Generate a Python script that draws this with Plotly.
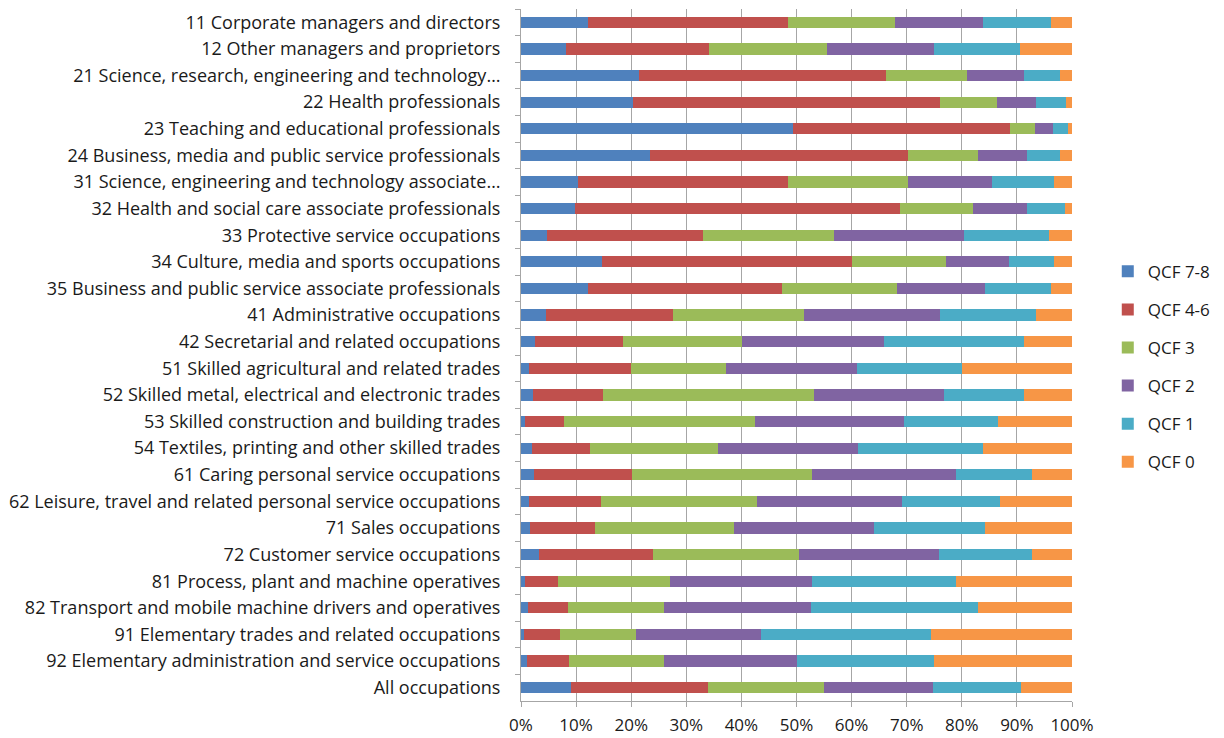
import plotly.graph_objects as go

occupations = [
    "11 Corporate managers and directors",
    "12 Other managers and proprietors",
    "21 Science, research, engineering and technology…",
    "22 Health professionals",
    "23 Teaching and educational professionals",
    "24 Business, media and public service professionals",
    "31 Science, engineering and technology associate…",
    "32 Health and social care associate professionals",
    "33 Protective service occupations",
    "34 Culture, media and sports occupations",
    "35 Business and public service associate professionals",
    "41 Administrative occupations",
    "42 Secretarial and related occupations",
    "51 Skilled agricultural and related trades",
    "52 Skilled metal, electrical and electronic trades",
    "53 Skilled construction and building trades",
    "54 Textiles, printing and other skilled trades",
    "61 Caring personal service occupations",
    "62 Leisure, travel and related personal service occupations",
    "71 Sales occupations",
    "72 Customer service occupations",
    "81 Process, plant and machine operatives",
    "82 Transport and mobile machine drivers and operatives",
    "91 Elementary trades and related occupations",
    "92 Elementary administration and service occupations",
    "All occupations",
]

# Share of workers (%) by highest qualification level
qcf_7_8 = [12.1, 8.1, 21.5, 20.4, 49.3, 23.4, 10.4, 9.8, 4.8, 14.7, 12.1, 4.6, 2.5,
           1.5, 2.2, 0.8, 2.0, 2.3, 1.5, 1.7, 3.3, 0.8, 1.2, 0.5, 1.0, 9.0]
qcf_4_6 = [36.4, 26.1, 44.8, 55.6, 39.4, 46.9, 38.1, 58.9, 28.3, 45.3, 35.2, 22.9, 16.0,
           18.4, 12.7, 7.0, 10.5, 17.8, 13.1, 11.7, 20.6, 5.9, 7.3, 6.5, 7.7, 24.9]
qcf_3 = [19.4, 21.4, 14.6, 10.4, 4.5, 12.7, 21.8, 13.4, 23.7, 17.2, 20.9, 23.9, 21.6,
         17.3, 38.3, 34.6, 23.2, 32.8, 28.3, 25.2, 26.5, 20.4, 17.5, 13.9, 17.3, 21.1]
qcf_2 = [15.9, 19.4, 10.4, 7.1, 3.3, 8.8, 15.2, 9.7, 23.6, 11.3, 16.1, 24.6, 25.7,
         23.7, 23.6, 27.1, 25.5, 26.0, 26.2, 25.5, 25.5, 25.7, 26.6, 22.6, 24.0, 19.8]
qcf_1 = [12.3, 15.6, 6.5, 5.5, 2.7, 6.0, 11.2, 6.9, 15.4, 8.2, 11.9, 17.5, 25.5,
         19.1, 14.4, 17.1, 22.6, 13.9, 17.8, 20.2, 16.9, 26.2, 30.4, 30.9, 24.9, 15.9]
qcf_0 = [3.9, 9.4, 2.2, 1.0, 0.8, 2.2, 3.3, 1.3, 4.2, 3.3, 3.8, 6.5, 8.7,
         20.0, 8.8, 13.4, 16.2, 7.2, 13.1, 15.7, 7.2, 21.0, 17.0, 25.6, 25.1, 9.3]

series = [
    ("QCF 7-8", qcf_7_8, "#4F81BD"),
    ("QCF 4-6", qcf_4_6, "#C0504D"),
    ("QCF 3", qcf_3, "#9BBB59"),
    ("QCF 2", qcf_2, "#8064A2"),
    ("QCF 1", qcf_1, "#4BACC6"),
    ("QCF 0", qcf_0, "#F79646"),
]

font_family = "Open Sans, Liberation Sans, sans-serif"

fig = go.Figure()
for name, vals, color in series:
    fig.add_trace(go.Bar(
        name=name,
        y=occupations,
        x=[v / 100 for v in vals],
        orientation="h",
        marker=dict(color=color, line=dict(width=0)),
        width=0.42,
        legendgroup=name,
    ))

fig.update_layout(
    barmode="stack",
    barnorm="fraction",
    width=1224,
    height=738,
    margin=dict(l=521, r=151, t=9, b=37),
    paper_bgcolor="white",
    plot_bgcolor="white",
    font=dict(family=font_family, size=18, color="#1a1a1a"),
    legend=dict(
        x=1.063, xanchor="left", xref="paper",
        y=0.483, yanchor="middle",
        traceorder="grouped",
        tracegroupgap=13,
        font=dict(size=17, family=font_family),
        itemwidth=30,
    ),
    showlegend=True,
)

fig.update_xaxes(
    range=[0, 1],
    tickformat=".0%",
    dtick=0.1,
    showgrid=True,
    gridcolor="#a6a6a6",
    gridwidth=1,
    showline=True,
    linecolor="#a6a6a6",
    ticks="outside",
    ticklen=5,
    tickcolor="#a6a6a6",
    ticklabelstandoff=4,
    tickfont=dict(size=17),
    zeroline=False,
    automargin=False,
)

fig.update_yaxes(
    categoryorder="array",
    categoryarray=occupations,
    autorange="reversed",
    showline=True,
    linecolor="#a6a6a6",
    ticks="outside",
    tickson="boundaries",
    ticklen=5,
    tickcolor="#a6a6a6",
    ticklabelstandoff=16,
    tickfont=dict(size=18),
    showgrid=False,
    automargin=False,
)

fig.write_html("out.html")
